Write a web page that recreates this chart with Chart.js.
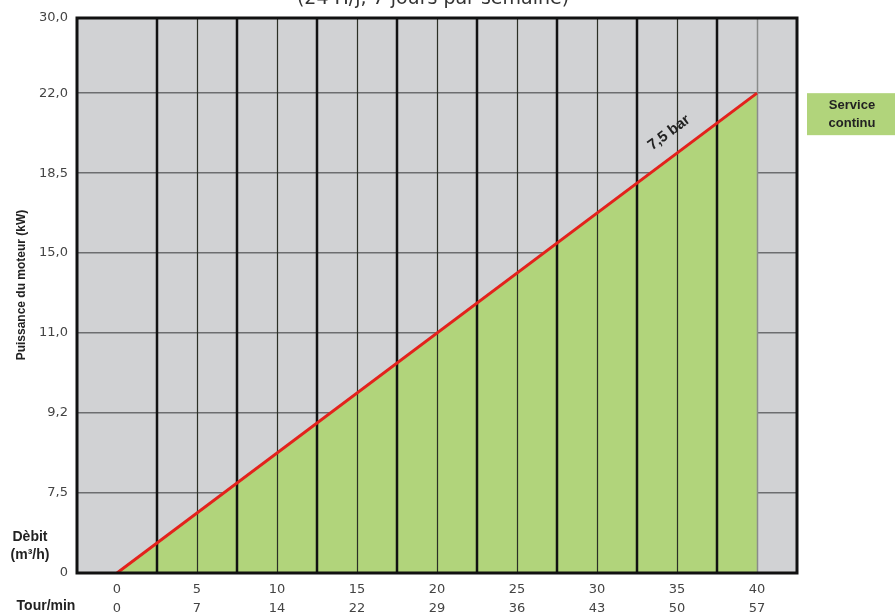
<!DOCTYPE html>
<html>
<head>
<meta charset="utf-8">
<script src="https://cdn.jsdelivr.net/npm/chart.js@4/dist/chart.umd.min.js"></script>
<style>
  html, body { margin: 0; padding: 0; background: #ffffff; }
  #wrap { width: 896px; height: 613px; position: relative; }
</style>
</head>
<body>
<div id="wrap"><canvas id="c" width="896" height="613"></canvas></div>
<script>
// ---- data ----
const debitTicks = ['0','5','10','15','20','25','30','35','40'];
const tourMinTicks = ['0','7','14','22','29','36','43','50','57'];
const puissanceTicks = ['0','7,5','9,2','11,0','15,0','18,5','22,0','30,0'];
const serieDebit = [0, 40];
const seriePuissance = ['0', '22,0'];
const titleText = '(24 H/j, 7 jours par semaine)';
const yTitle = 'Puissance du moteur (kW)';
const lineLabel = '7,5 bar';
const legendLines = ['Service', 'continu'];

const points = serieDebit.map((x, i) => ({ x: x, y: puissanceTicks.indexOf(seriePuissance[i]) }));

const GRAY = '#d1d2d4';
const GREEN = '#b1d47b';
const RED = '#e3221c';
const Y_TOP = puissanceTicks.length - 1.06; // the top frame sits a little below the last step

const decor = {
  id: 'decor',
  beforeDraw(chart) {
    const a = chart.chartArea, ctx = chart.ctx;
    ctx.save();
    ctx.fillStyle = GRAY;
    ctx.fillRect(a.left, a.top, a.right - a.left, a.bottom - a.top);
    ctx.restore();
  },
  afterDatasetDraw(chart, args) {
    if (args.index !== 0) return;
    const a = chart.chartArea, ctx = chart.ctx, xs = chart.scales.x;
    ctx.save();
    xs.ticks.forEach(t => {
      const v = t.value;
      if (v <= xs.min || v >= xs.max || v === 0) return;
      const px = Math.round(xs.getPixelForValue(v));
      const thick = Math.abs(v % 5) === 2.5;
      ctx.beginPath();
      if (thick) { ctx.strokeStyle = '#111111'; ctx.lineWidth = 2.5; }
      else if (v === 40) { ctx.strokeStyle = '#8a8c8a'; ctx.lineWidth = 1.5; }
      else { ctx.strokeStyle = '#2b2f25'; ctx.lineWidth = 1.2; }
      ctx.moveTo(px + (thick ? 0 : 0.5), a.top);
      ctx.lineTo(px + (thick ? 0 : 0.5), a.bottom);
      ctx.stroke();
    });
    ctx.restore();
  },
  afterDraw(chart) {
    const a = chart.chartArea, ctx = chart.ctx, xs = chart.scales.x, ys = chart.scales.y;
    ctx.save();
    // frame
    ctx.strokeStyle = '#111111';
    ctx.lineWidth = 3;
    ctx.strokeRect(a.left, a.top, a.right - a.left, a.bottom - a.top);

    // title (top cut off, as in the reference)
    ctx.fillStyle = '#333333';
    ctx.font = '19px "DejaVu Sans"';
    ctx.textAlign = 'center';
    ctx.textBaseline = 'alphabetic';
    ctx.fillText(titleText, (a.left + a.right) / 2 - 4, 4);

    // y axis title
    ctx.save();
    ctx.translate(22, 285);
    ctx.rotate(-Math.PI / 2);
    ctx.font = 'bold 12px "Liberation Sans"';
    ctx.fillStyle = '#222222';
    ctx.textAlign = 'center';
    ctx.textBaseline = 'middle';
    ctx.fillText(yTitle, 0, 0);
    ctx.restore();

    // Dèbit / Tour/min labels
    ctx.fillStyle = '#222222';
    ctx.font = 'bold 14px "Liberation Sans"';
    ctx.textAlign = 'center';
    ctx.textBaseline = 'middle';
    ctx.fillText('Dèbit', 30, 537);
    ctx.fillText('(m³/h)', 30, 555);
    ctx.fillText('Tour/min', 46, 606);

    // legend box
    const ly = ys.getPixelForValue(puissanceTicks.indexOf('22,0'));
    const lx = a.right + 10;
    ctx.fillStyle = GREEN;
    ctx.fillRect(lx, ly, 88, 42);
    ctx.fillStyle = '#222222';
    ctx.font = 'bold 13px "Liberation Sans"';
    ctx.fillText(legendLines[0], lx + 45, ly + 12);
    ctx.fillText(legendLines[1], lx + 45, ly + 30);

    // line label
    const p0x = xs.getPixelForValue(points[0].x), p0y = ys.getPixelForValue(points[0].y);
    const p1x = xs.getPixelForValue(points[1].x), p1y = ys.getPixelForValue(points[1].y);
    const ang = Math.atan2(p1y - p0y, p1x - p0x);
    const xv = 35.3;
    const t = (xv - points[0].x) / (points[1].x - points[0].x);
    const fx = p0x + (p1x - p0x) * t, fy = p0y + (p1y - p0y) * t;
    const len = Math.hypot(p1x - p0x, p1y - p0y);
    const nx = (p1y - p0y) / len, ny = -(p1x - p0x) / len;
    ctx.save();
    ctx.translate(fx + nx * 21, fy + ny * 21);
    ctx.rotate(ang);
    ctx.font = 'bold 15px "Liberation Sans"';
    ctx.fillStyle = '#222222';
    ctx.textAlign = 'center';
    ctx.textBaseline = 'middle';
    ctx.fillText(lineLabel, 0, 0);
    ctx.restore();

    ctx.restore();
  }
};

new Chart(document.getElementById('c'), {
  type: 'line',
  data: {
    datasets: [
      {
        label: 'zone',
        data: points,
        fill: 'origin',
        backgroundColor: GREEN,
        borderWidth: 0,
        pointRadius: 0,
        order: 2
      },
      {
        label: lineLabel,
        data: points,
        fill: false,
        borderColor: RED,
        borderWidth: 3,
        pointRadius: 0,
        order: 1
      }
    ]
  },
  options: {
    responsive: false,
    animation: false,
    events: [],
    layout: { padding: { top: 18, right: 99, left: 0, bottom: 0 } },
    plugins: { legend: { display: false }, tooltip: { enabled: false }, title: { display: false } },
    scales: {
      x: {
        type: 'linear',
        min: -2.5,
        max: 42.5,
        afterFit(s) { s.height = 40; },
        border: { display: false },
        grid: { display: false, drawTicks: false },
        ticks: {
          stepSize: 2.5,
          autoSkip: false,
          maxRotation: 0,
          padding: 8,
          color: '#444444',
          font: { family: 'DejaVu Sans', size: 13, lineHeight: 1.4 },
          callback(v) {
            const i = debitTicks.indexOf(String(v));
            return i >= 0 ? [debitTicks[i], tourMinTicks[i]] : '';
          }
        }
      },
      y: {
        type: 'linear',
        min: 0,
        max: Y_TOP,
        afterFit(s) { s.width = 77; },
        border: { display: false },
        grid: { color: '#6d6e70', lineWidth: 1.5, drawTicks: false },
        ticks: {
          stepSize: 1,
          autoSkip: false,
          padding: 9,
          color: '#444444',
          font: { family: 'DejaVu Sans', size: 13 },
          callback(v) {
            const i = v > puissanceTicks.length - 2 + 0.5 ? puissanceTicks.length - 1 : Math.round(v);
            return puissanceTicks[i] !== undefined ? puissanceTicks[i] : '';
          }
        }
      }
    }
  },
  plugins: [decor]
});
</script>
</body>
</html>
